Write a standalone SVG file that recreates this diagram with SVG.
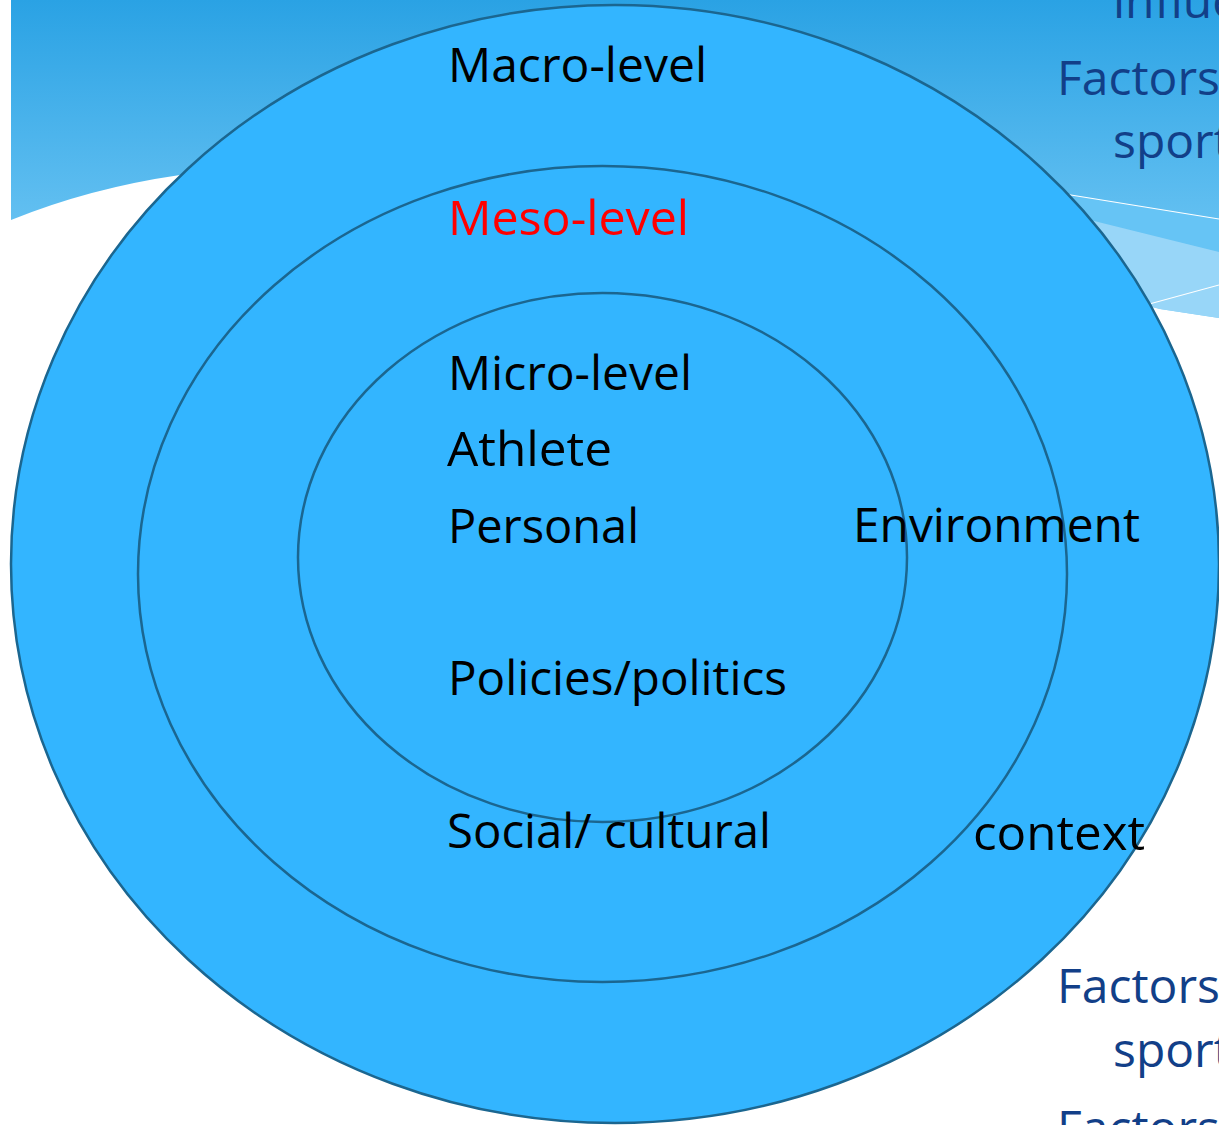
<svg xmlns="http://www.w3.org/2000/svg" width="1219" height="1125" viewBox="0 0 1219 1125">
  <defs>
    <linearGradient id="band" x1="0" y1="0" x2="0" y2="320" gradientUnits="userSpaceOnUse">
      <stop offset="0" stop-color="#2aa2e4"/>
      <stop offset="1" stop-color="#7ccdf7"/>
    </linearGradient>
    <style>
      .ring { fill: #33b5ff; stroke: #1b6690; stroke-width: 2.5; }
      .lbl { font-family: "Open Sans", "Noto Sans", sans-serif; font-size: 48px; fill: #000000; }
      .side { font-family: "Open Sans", "Noto Sans", sans-serif; font-size: 48px; fill: #123f88; }
    </style>
  </defs>
  <rect x="0" y="0" width="1219" height="1125" fill="#ffffff"/>
  <g id="background">
    <path d="M11,0 H1219 V318 L1160,309 Q640,150 180,175 Q90,188 11,220 Z" fill="url(#band)"/>
    <path d="M1040,190 L1219,219 L1219,252 L1070,215 Z" fill="#66c4f5"/>
    <path d="M1070,215 L1219,252 L1219,318 L1160,309 L1120,300 Z" fill="#98d6f8"/>
    <line x1="1040" y1="190" x2="1219" y2="219" stroke="#ffffff" stroke-width="1.2"/>
    <line x1="1120" y1="312" x2="1219" y2="285" stroke="#ffffff" stroke-width="1.2"/>
  </g>
  <g id="side-text">
    <text class="side" x="1113" y="18">influe</text>
    <text class="side" x="1057" y="95">Factors</text>
    <text class="side" x="1113" y="158">sport</text>
    <text class="side" x="1057" y="1003">Factors</text>
    <text class="side" x="1113" y="1067">sport</text>
    <text class="side" x="1057" y="1145">Factors</text>
  </g>
  <g id="macro">
    <ellipse class="ring" cx="615" cy="564" rx="604" ry="559"/>
  </g>
  <g id="meso">
    <ellipse class="ring" cx="602.5" cy="574" rx="464.5" ry="408"/>
  </g>
  <g id="micro">
    <ellipse class="ring" cx="602.5" cy="557.5" rx="304.5" ry="264.5"/>
  </g>
  <g id="labels">
    <text class="lbl" x="448" y="82" textLength="259" lengthAdjust="spacingAndGlyphs">Macro-level</text>
    <text class="lbl" x="448" y="235" textLength="241" lengthAdjust="spacingAndGlyphs" fill="#ff0000" style="fill:#ff0000">Meso-level</text>
    <text class="lbl" x="448" y="390" textLength="244" lengthAdjust="spacingAndGlyphs">Micro-level</text>
    <text class="lbl" x="447" y="466" textLength="165" lengthAdjust="spacingAndGlyphs">Athlete</text>
    <text class="lbl" x="448" y="543" textLength="191" lengthAdjust="spacingAndGlyphs">Personal</text>
    <text class="lbl" x="853" y="542" textLength="287" lengthAdjust="spacingAndGlyphs">Environment</text>
    <text class="lbl" x="448" y="695" textLength="339" lengthAdjust="spacingAndGlyphs">Policies/politics</text>
    <text class="lbl" x="447" y="848" textLength="324" lengthAdjust="spacingAndGlyphs">Social/ cultural</text>
    <text class="lbl" x="973" y="850" textLength="172" lengthAdjust="spacingAndGlyphs">context</text>
  </g>
</svg>
